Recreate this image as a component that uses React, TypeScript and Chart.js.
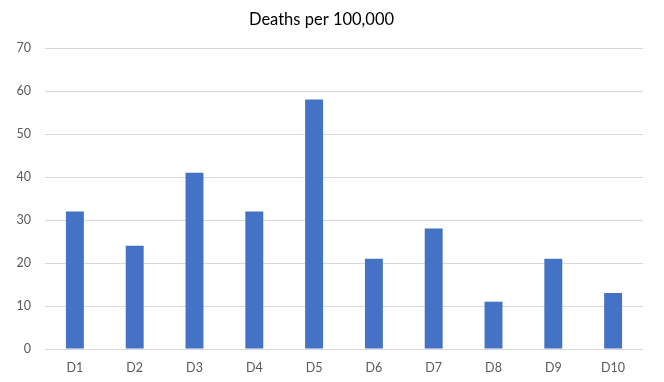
import React, { useEffect, useRef } from "react";
import { Chart, registerables } from "chart.js";

Chart.register(...registerables);

const categories = ["D1", "D2", "D3", "D4", "D5", "D6", "D7", "D8", "D9", "D10"];
const deaths = [32, 24, 41, 32, 58, 21, 28, 11, 21, 13];
const yMin = 0;
const yMax = 70;
const yStep = 10;
const titleText = "Deaths per 100,000";

export default function App() {
  const ref = useRef<HTMLCanvasElement | null>(null);
  useEffect(() => {
    document.body.style.margin = "0";
    const ctx = ref.current!;
    const font = "Lato, 'Open Sans', sans-serif";
    const chart = new Chart(ctx, {
      type: "bar",
      data: {
        labels: categories,
        datasets: [
          {
            label: titleText,
            data: deaths,
            backgroundColor: "#4472C4",
            borderWidth: 0,
            barPercentage: 0.3,
            categoryPercentage: 1,
          },
        ],
      },
      options: {
        animation: false,
        responsive: false,
        maintainAspectRatio: false,
        layout: { padding: { left: 0, right: 21, top: 0, bottom: 7 } },
        plugins: {
          legend: { display: false },
          tooltip: { enabled: false },
          title: {
            display: true,
            text: titleText,
            color: "#000000",
            font: { family: font, size: 16.5, weight: "normal" },
            padding: { top: 10, bottom: 18.2 },
          },
        },
        scales: {
          x: {
            grid: { display: false, drawTicks: false },
            border: { display: false },
            ticks: { color: "#595959", font: { family: font, size: 12.5 }, padding: 11, maxRotation: 0 },
            afterFit: (s: any) => {
              s.height = 26;
            },
          },
          y: {
            min: yMin,
            max: yMax,
            ticks: { stepSize: yStep, color: "#595959", font: { family: font, size: 12.5 }, padding: 14 },
            grid: { color: "#d9d9d9", lineWidth: 1, drawTicks: false },
            border: { display: false },
            afterFit: (s: any) => {
              s.width = 45;
            },
          },
        },
      },
    });
    return () => chart.destroy();
  }, []);
  return (
    <div style={{ width: 664, height: 382, background: "#fff" }}>
      <canvas ref={ref} width={664} height={382} style={{ display: "block" }} />
    </div>
  );
}
